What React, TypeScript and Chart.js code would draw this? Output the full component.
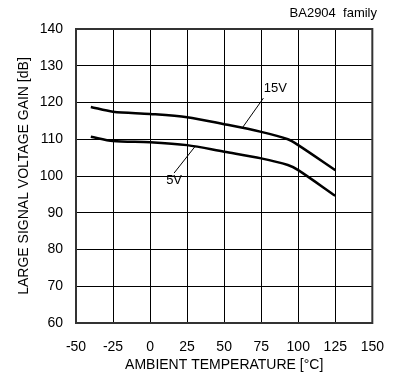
import React, { useEffect, useRef } from "react";
import { Chart, registerables } from "chart.js";

Chart.register(...registerables);

const temps15V = [-40, -25, 0, 25, 50, 75, 93, 100, 125];
const gain15V = [118.8, 117.5, 116.9, 116.0, 114.1, 112.0, 110.0, 108.4, 101.6];
const temps5V = [-40, -25, 0, 25, 50, 75, 93, 100, 125];
const gain5V = [110.7, 109.5, 109.2, 108.4, 106.6, 104.8, 103.0, 101.6, 94.6];

const leader15V = [
  { x: 76.5, y: 121.2 },
  { x: 62.6, y: 113.3 },
];
const leader5V = [
  { x: 30.1, y: 107.9 },
  { x: 16.2, y: 100.8 },
];
const labels = [
  { text: "15V", x: 84.5, y: 123.7 },
  { text: "5V", x: 16.2, y: 98.9 },
];

const X_MIN = -50;
const X_MAX = 150;
const Y_MIN = 60;
const Y_MAX = 140;
const chartTitle = "BA2904  family";
const xTitle = "AMBIENT TEMPERATURE [°C]";
const yTitle = "LARGE SIGNAL VOLTAGE GAIN [dB]";

const FONT = "Arial, 'Liberation Sans', sans-serif";

export default function App() {
  const ref = useRef<HTMLCanvasElement>(null);
  useEffect(() => {
    const canvas = ref.current;
    if (!canvas) return;
    const toPts = (xs: number[], ys: number[]) => xs.map((x, i) => ({ x, y: ys[i] }));
    const labelPlugin = {
      id: "labelPlugin",
      afterDatasetsDraw(chart: any) {
        const ctx = chart.ctx;
        const xs = chart.scales.x;
        const ys = chart.scales.y;
        ctx.save();
        ctx.fillStyle = "#000";
        ctx.font = `13px ${FONT}`;
        ctx.textAlign = "center";
        ctx.textBaseline = "middle";
        labels.forEach((l) => {
          ctx.fillText(l.text, xs.getPixelForValue(l.x), ys.getPixelForValue(l.y));
        });
        ctx.font = `13px ${FONT}`;
        ctx.textAlign = "right";
        ctx.fillText(chartTitle, 377, 13);
        ctx.restore();
      },
    };
    const chart = new Chart(canvas, {
      type: "scatter",
      data: {
        datasets: [
          {
            data: toPts(temps15V, gain15V),
            showLine: true,
            borderColor: "#000",
            borderWidth: 2.5,
            pointRadius: 0,
            tension: 0.3,
          },
          {
            data: toPts(temps5V, gain5V),
            showLine: true,
            borderColor: "#000",
            borderWidth: 2.5,
            pointRadius: 0,
            tension: 0.3,
          },
          {
            data: leader15V,
            showLine: true,
            borderColor: "#000",
            borderWidth: 1,
            pointRadius: 0,
          },
          {
            data: leader5V,
            showLine: true,
            borderColor: "#000",
            borderWidth: 1,
            pointRadius: 0,
          },
        ],
      },
      options: {
        animation: false,
        responsive: false,
        layout: { padding: { top: 29, right: 22, left: 0, bottom: 0 } },
        plugins: { legend: { display: false }, tooltip: { enabled: false } },
        scales: {
          x: {
            type: "linear",
            min: X_MIN,
            max: X_MAX,
            afterFit: (s: any) => {
              s.height = 51;
            },
            ticks: { stepSize: 25, color: "#000", padding: 16, font: { family: FONT, size: 14 } },
            grid: { color: "#000", lineWidth: 1, drawTicks: false },
            border: { color: "#333", width: 2 },
            title: {
              display: true,
              text: xTitle,
              color: "#000",
              font: { family: FONT, size: 14 },
              padding: { top: 0, bottom: 0 },
            },
          },
          y: {
            type: "linear",
            min: Y_MIN,
            max: Y_MAX,
            afterFit: (s: any) => {
              s.width = 76;
            },
            ticks: { stepSize: 10, color: "#000", padding: 13, font: { family: FONT, size: 14 } },
            grid: { color: "#000", lineWidth: 1, drawTicks: false },
            border: { color: "#333", width: 2 },
            title: {
              display: true,
              text: yTitle,
              color: "#000",
              font: { family: FONT, size: 14 },
              padding: { top: 16, bottom: 0 },
            },
          },
        },
      },
      plugins: [
        labelPlugin,
        {
          id: "frame",
          afterDraw(chart: any) {
            const { left, right, top, bottom } = chart.chartArea;
            const ctx = chart.ctx;
            ctx.save();
            ctx.strokeStyle = "#333";
            ctx.lineWidth = 2;
            ctx.strokeRect(left, top, right - left, bottom - top);
            ctx.restore();
          },
        },
      ],
    });
    return () => chart.destroy();
  }, []);
  return (
    <div style={{ position: "fixed", left: 0, top: 0, width: 400, height: 374, background: "#fff" }}>
      <canvas ref={ref} width={400} height={374} />
    </div>
  );
}
